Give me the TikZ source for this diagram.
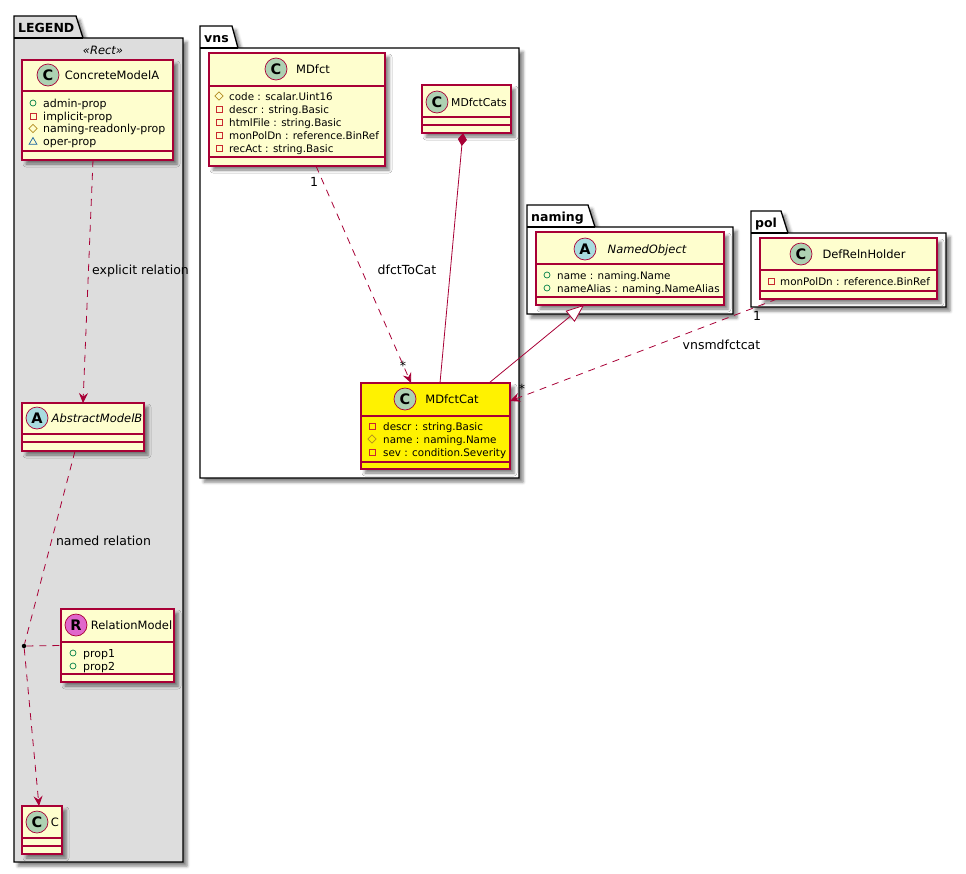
\documentclass[tikz,border=0pt]{standalone}
\usepackage{fontspec}
\setmainfont{DejaVu Sans}
\definecolor{umlred}{RGB}{168,0,54}
\definecolor{umlfill}{RGB}{254,254,206}
\definecolor{classgreen}{RGB}{173,209,178}
\definecolor{abstractblue}{RGB}{169,220,223}
\definecolor{relpink}{RGB}{224,103,204}
\definecolor{legendgrey}{RGB}{221,221,221}
\definecolor{vispublic}{RGB}{3,128,72}
\definecolor{visprivate}{RGB}{200,41,48}
\definecolor{visprotected}{RGB}{179,141,34}
\definecolor{vispackage}{RGB}{25,99,160}
\usetikzlibrary{positioning, arrows.meta, shapes.geometric, shadows.blur}

\begin{document}
\begin{tikzpicture}[
      x=1pt, y=-1pt,
      softshadow/.style = {blur shadow={shadow xshift=4pt, shadow yshift=-4pt, shadow blur radius=3pt, shadow opacity=50}},
      pkg/.style = {draw=black, line width=1.3pt, fill=white, softshadow},
      pkgname/.style = {font=\fontsize{12.5}{15}\selectfont\bfseries, anchor=base west, inner sep=0},
      umlclass/.style = {draw=umlred, fill=umlfill, line width=1.2pt, inner sep=0, outer sep=0, softshadow},
      sep/.style = {draw=umlred, line width=1.2pt},
      badge/.style = {circle, draw=umlred, line width=0.7pt, minimum size=22pt, inner sep=0,
                      font=\fontsize{14.5}{15}\selectfont\bfseries},
      title/.style = {font=\fontsize{11.5}{14}\selectfont, anchor=base, inner sep=0},
      attr/.style = {font=\fontsize{10.35}{13}\selectfont, anchor=base west, inner sep=0},
      propattr/.style = {font=\fontsize{11}{13}\selectfont, anchor=base west, inner sep=0},
      linklabel/.style = {font=\fontsize{12.5}{15}\selectfont, anchor=base, inner sep=0},
      pubmark/.style = {circle, draw=vispublic, line width=0.7pt, minimum size=6pt, inner sep=0},
      privmark/.style = {rectangle, draw=visprivate, line width=0.7pt, minimum size=6pt, inner sep=0},
      protmark/.style = {diamond, draw=visprotected, line width=0.7pt, minimum size=8.5pt, inner sep=0},
      packmark/.style = {regular polygon, regular polygon sides=3, draw=vispackage, line width=0.7pt,
                         minimum size=9pt, inner sep=0},
      dep/.style = {draw=umlred, line width=0.8pt, dash pattern=on 7pt off 6pt,
                    -{Stealth[length=10pt, width=9pt, inset=3.5pt, fill=umlred]}},
      plainlink/.style = {draw=umlred, line width=0.8pt}
    ]
    \useasboundingbox (0,0) rectangle (966,873);

    % packages
    \draw[pkg, fill=legendgrey] (14,38) -- (14,16) -- (76,16) -- (83,38) -- (183,38) -- (183,862) -- (14,862) -- cycle;
    \draw[line width=1.3pt] (14,38) -- (83,38);
    \node[pkgname] (legendname) at (18,32) {LEGEND};
    \draw[pkg] (200,48) -- (200,26) -- (232,26) -- (238,48) -- (519,48) -- (519,478) -- (200,478) -- cycle;
    \draw[line width=1.3pt] (200,48) -- (238,48);
    \node[pkgname] (vnsname) at (204,42) {vns};
    \draw[pkg] (527,227) -- (527,205) -- (588,205) -- (595,227) -- (733,227) -- (733,314) -- (527,314) -- cycle;
    \draw[line width=1.3pt] (527,227) -- (595,227);
    \node[pkgname] (namingname) at (531,221) {naming};
    \draw[pkg] (751,233) -- (751,211) -- (781,211) -- (788,233) -- (946,233) -- (946,307) -- (751,307) -- cycle;
    \draw[line width=1.3pt] (751,233) -- (788,233);
    \node[pkgname] (polname) at (755,227) {pol};

    \node[font=\fontsize{11.5}{14}\selectfont\itshape, anchor=base, inner sep=0] (rectname) at (103,54) {«Rect»};

    % class boxes
    \node[umlclass, minimum width=151pt, minimum height=100pt] (concretea) at (97.5,110) {};
    \node[umlclass, minimum width=122pt, minimum height=48pt] (abstractb) at (83,427) {};
    \node[umlclass, minimum width=113pt, minimum height=73pt] (relationmodel) at (117.5,645.5) {};
    \node[umlclass, minimum width=40pt, minimum height=48pt] (cmodel) at (42,830) {};
    \node[umlclass, minimum width=176pt, minimum height=113pt] (mdfct) at (297,109.5) {};
    \node[umlclass, minimum width=89pt, minimum height=48pt] (mdfctcats) at (466.5,109) {};
    \node[umlclass, fill=yellow, minimum width=149pt, minimum height=86pt] (mdfctcat) at (435.5,426) {};
    \node[umlclass, minimum width=188pt, minimum height=73pt] (namedobject) at (630,268.5) {};
    \node[umlclass, minimum width=177pt, minimum height=61pt] (defreln) at (848.5,268.5) {};

    % compartments
    \draw[sep] ([yshift=-31pt]concretea.north west) -- ([yshift=-31pt]concretea.north east);
    \draw[sep] ([yshift=9pt]concretea.south west) -- ([yshift=9pt]concretea.south east);
    \draw[sep] ([yshift=-31pt]abstractb.north west) -- ([yshift=-31pt]abstractb.north east);
    \draw[sep] ([yshift=9pt]abstractb.south west) -- ([yshift=9pt]abstractb.south east);
    \draw[sep] ([yshift=-33pt]relationmodel.north west) -- ([yshift=-33pt]relationmodel.north east);
    \draw[sep] ([yshift=8pt]relationmodel.south west) -- ([yshift=8pt]relationmodel.south east);
    \draw[sep] ([yshift=-32pt]cmodel.north west) -- ([yshift=-32pt]cmodel.north east);
    \draw[sep] ([yshift=8pt]cmodel.south west) -- ([yshift=8pt]cmodel.south east);
    \draw[sep] ([yshift=-33pt]mdfct.north west) -- ([yshift=-33pt]mdfct.north east);
    \draw[sep] ([yshift=9pt]mdfct.south west) -- ([yshift=9pt]mdfct.south east);
    \draw[sep] ([yshift=-32pt]mdfctcats.north west) -- ([yshift=-32pt]mdfctcats.north east);
    \draw[sep] ([yshift=8pt]mdfctcats.south west) -- ([yshift=8pt]mdfctcats.south east);
    \draw[sep] ([yshift=-33pt]mdfctcat.north west) -- ([yshift=-33pt]mdfctcat.north east);
    \draw[sep] ([yshift=7pt]mdfctcat.south west) -- ([yshift=7pt]mdfctcat.south east);
    \draw[sep] ([yshift=-32pt]namedobject.north west) -- ([yshift=-32pt]namedobject.north east);
    \draw[sep] ([yshift=8pt]namedobject.south west) -- ([yshift=8pt]namedobject.south east);
    \draw[sep] ([yshift=-32pt]defreln.north west) -- ([yshift=-32pt]defreln.north east);
    \draw[sep] ([yshift=8pt]defreln.south west) -- ([yshift=8pt]defreln.south east);

    % badges and titles
    \node[badge, fill=classgreen] (concreteabadge) at (48,75) {C};
    \node[title] (concreteatitle) at (112,79) {ConcreteModelA};
    \node[badge, fill=abstractblue] (abstractbbadge) at (37,418) {A};
    \node[title, font=\fontsize{11.5}{14}\selectfont\itshape] (abstractbtitle) at (97,422) {AbstractModelB};
    \node[badge, fill=relpink] (relationbadge) at (76,625) {R};
    \node[title] (relationtitle) at (131.5,629) {RelationModel};
    \node[badge, fill=classgreen] (cbadge) at (37,822) {C};
    \node[title] (ctitle) at (55,826) {C};
    \node[badge, fill=classgreen] (mdfctbadge) at (276,69) {C};
    \node[title] (mdfcttitle) at (313,73) {MDfct};
    \node[badge, fill=classgreen] (mdfctcatsbadge) at (437,102) {C};
    \node[title, font=\fontsize{10.8}{14}\selectfont] (mdfctcatstitle) at (479,106) {MDfctCats};
    \node[badge, fill=classgreen] (mdfctcatbadge) at (405,399) {C};
    \node[title] (mdfctcattitle) at (452,403) {MDfctCat};
    \node[badge, fill=abstractblue] (namedobjectbadge) at (585,249) {A};
    \node[title, font=\fontsize{11.5}{14}\selectfont\itshape] (namedobjecttitle) at (647,253) {NamedObject};
    \node[badge, fill=classgreen] (defrelnbadge) at (801,254) {C};
    \node[title] (defrelntitle) at (864,258) {DefRelnHolder};

    % attributes
    \node[pubmark] (adminmark) at (33,103) {};
    \node[propattr] (adminprop) at (43,107) {admin-prop};
    \node[privmark] (implicitmark) at (33,116) {};
    \node[propattr] (implicitprop) at (43,120) {implicit-prop};
    \node[protmark] (namingmark) at (33,128.5) {};
    \node[propattr] (namingprop) at (43,132.5) {naming-readonly-prop};
    \node[packmark] (opermark) at (33,142) {};
    \node[propattr] (operprop) at (43,145.5) {oper-prop};

    \node[pubmark] (propamark) at (73,653) {};
    \node[propattr] (propa) at (83,657) {prop1};
    \node[pubmark] (propbmark) at (73,666) {};
    \node[propattr] (propb) at (83,670) {prop2};

    \node[protmark] (codemark) at (219,96) {};
    \node[attr] (codeattr) at (229,100) {code : scalar.Uint16};
    \node[privmark] (descrmark) at (219,109) {};
    \node[attr] (descrattr) at (229,113) {descr : string.Basic};
    \node[privmark] (htmlmark) at (219,122) {};
    \node[attr] (htmlattr) at (229,126) {htmlFile : string.Basic};
    \node[privmark] (monmark) at (219,135) {};
    \node[attr] (monattr) at (229,139) {monPolDn : reference.BinRef};
    \node[privmark] (recmark) at (219,148) {};
    \node[attr] (recattr) at (229,152) {recAct : string.Basic};

    \node[privmark] (catdescrmark) at (372,426) {};
    \node[attr] (catdescr) at (383,430) {descr : string.Basic};
    \node[protmark] (catnamemark) at (372,439) {};
    \node[attr] (catname) at (383,443) {name : naming.Name};
    \node[privmark] (catsevmark) at (372,452) {};
    \node[attr] (catsev) at (383,456) {sev : condition.Severity};

    \node[pubmark] (objnamemark) at (547,275) {};
    \node[attr] (objname) at (557,279) {name : naming.Name};
    \node[pubmark] (objaliasmark) at (547,288) {};
    \node[attr] (objalias) at (557,292) {nameAlias : naming.NameAlias};

    \node[privmark] (holdermark) at (771,281) {};
    \node[attr] (holderattr) at (780,285) {monPolDn : reference.BinRef};

    % connectors
    \node[circle, fill=black, minimum size=4.5pt, inner sep=0] (reldot) at (24,646) {};
    \draw[dep] ([xshift=-4.5pt]concretea.south) -- (abstractb.north);
    \draw[plainlink, dash pattern=on 7pt off 6pt] ([xshift=-8pt]abstractb.south) -- (reldot);
    \draw[dep] (reldot) -- ([xshift=-3pt]cmodel.north);
    \draw[plainlink, dash pattern=on 7pt off 6pt] (reldot) -- (relationmodel.west);
    \draw[dep] ([xshift=19pt]mdfct.south) -- ([xshift=-24.5pt]mdfctcat.north);
    \draw[plainlink, {Diamond[length=13pt, width=9pt, fill=umlred]}-] ([xshift=-3.5pt]mdfctcats.south) -- ([xshift=4.5pt]mdfctcat.north);
    \draw[plainlink, -{Triangle[open, length=18pt, width=14pt, fill=white]}] ([xshift=53.5pt]mdfctcat.north) -- ([xshift=-46pt]namedobject.south);
    \draw[dep] ([xshift=-71.5pt]defreln.south) -- ([yshift=25pt]mdfctcat.east);

    % labels
    \node[linklabel] (explicitlabel) at (140.5,274) {explicit relation};
    \node[linklabel] (namedlabel) at (103.5,545) {named relation};
    \node[linklabel] (cattolabel) at (407,274) {dfctToCat};
    \node[linklabel] (holderlabel) at (721.5,349) {vnsmdfctcat};
    \node[linklabel] (mdfctone) at (314,186) {1};
    \node[linklabel] (mdfctstar) at (403,370) {*};
    \node[linklabel] (holderone) at (757,320) {1};
    \node[linklabel] (holderstar) at (522,393) {*};
  \end{tikzpicture}
\end{document}
